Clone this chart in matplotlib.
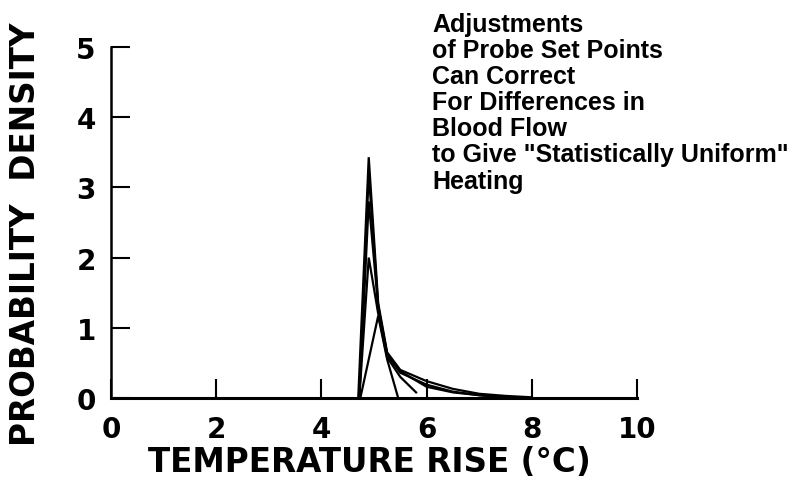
import matplotlib
matplotlib.use("Agg")
import matplotlib.pyplot as plt

plt.rcParams['font.family'] = ['DejaVu Sans']

# Data (temperature rise in °C, probability density)
x_a = [4.70, 4.90, 5.08, 5.25, 5.50, 6.00, 6.50, 7.00, 7.50, 8.00]
y_a = [0.00, 3.43, 1.35, 0.65, 0.40, 0.24, 0.13, 0.06, 0.03, 0.01]

x_b = [4.72, 4.90, 5.08, 5.25, 5.50, 6.00, 6.50, 7.00, 7.50]
y_b = [0.00, 2.80, 1.30, 0.62, 0.36, 0.19, 0.09, 0.04, 0.01]

x_c = [4.72, 4.90, 5.08, 5.25, 5.50, 5.80]
y_c = [0.00, 2.00, 1.20, 0.58, 0.30, 0.08]

x_d = [4.74, 5.08, 5.25, 5.46]
y_d = [0.00, 1.17, 0.55, 0.00]

x_e = [4.72, 4.90, 5.08, 5.25, 5.50, 6.00, 6.50, 7.00, 7.60]
y_e = [0.00, 3.20, 1.30, 0.62, 0.38, 0.16, 0.08, 0.04, 0.00]

xticks = [0, 2, 4, 6, 8, 10]
yticks = [0, 1, 2, 3, 4, 5]

annotation = ("Adjustments\nof Probe Set Points\nCan Correct\nFor Differences in\n"
              "Blood Flow\nto Give \"Statistically Uniform\"\nHeating")

fig = plt.figure(figsize=(8.02, 4.85), dpi=100)
ax = fig.add_axes([111/802, 86/485, (637-111)/802, (399-48)/485])

for xs, ys in [(x_a, y_a), (x_b, y_b), (x_c, y_c), (x_d, y_d), (x_e, y_e)]:
    ax.plot(xs, ys, color='black', lw=1.6, solid_joinstyle='miter')

ax.set_xlim(0, 10)
ax.set_ylim(0, 5)
ax.set_xticks(xticks)
ax.set_yticks(yticks)
ax.spines['top'].set_visible(False)
ax.spines['right'].set_visible(False)
ax.spines['left'].set_linewidth(1.8)
ax.spines['bottom'].set_linewidth(2.2)
ax.tick_params(direction='in', length=13.5, width=1.5, labelsize=20)
ax.tick_params(axis='x', pad=12)
ax.tick_params(axis='y', pad=11)
for lab in ax.get_xticklabels() + ax.get_yticklabels():
    lab.set_fontweight('bold')

ax.set_xlabel("TEMPERATURE RISE (°C)", fontsize=23.5, fontweight='bold')
ax.xaxis.set_label_coords(0.492, -0.133)
ax.set_ylabel("PROBABILITY  DENSITY", fontsize=23.5, fontweight='bold')
ax.yaxis.label.set_va('center')
ax.yaxis.set_label_coords(-0.163, 0.47)

fig.text(432/802, 1 - 13/485, annotation, ha='left', va='top', fontsize=18,
         fontweight='bold', linespacing=1.11, family=['Liberation Sans', 'DejaVu Sans'])

fig.savefig("out.png", dpi=100)
